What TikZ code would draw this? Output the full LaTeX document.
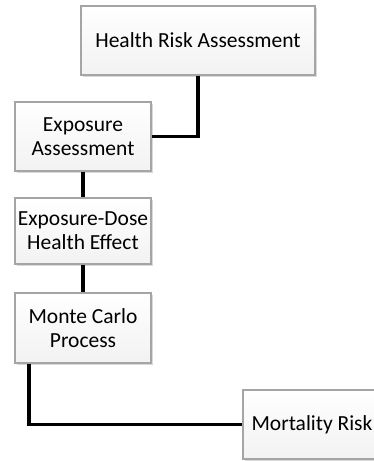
\documentclass[tikz,border=0pt]{standalone}
\usepackage{fontspec}
\setmainfont{Carlito}
\usepackage{tikz}
\usetikzlibrary{positioning,shadows,calc}
\usepackage{xcolor}
\definecolor{boxline}{RGB}{165,165,165}
\definecolor{boxtop}{RGB}{255,255,255}
\definecolor{boxbottom}{RGB}{242,242,242}
\tikzset{
  stagebox/.style={rectangle,draw=boxline,line width=1.3pt,top color=boxtop,
                   bottom color=boxbottom,inner sep=2pt,align=center,
                   font=\fontsize{21.5}{24}\selectfont,
                   drop shadow={opacity=.3,shadow xshift=1.8pt,shadow yshift=-1.8pt}},
  link/.style={draw=black,line width=3.8pt},
}

\begin{document}
\begin{tikzpicture}[x=1pt,y=-1pt]
  \useasboundingbox (0,0) rectangle (374,461);
  \node[stagebox,minimum width=234pt,minimum height=69pt] (hra) at (198,40.5)
    {Health Risk Assessment};
  \node[stagebox,minimum width=136pt,minimum height=69pt] (expo) at (83,136.5)
    {Exposure\\Assessment};
  \node[stagebox,minimum width=136pt,minimum height=66pt] (dose) at (83,231)
    {Exposure-Dose\\Health Effect};
  \node[stagebox,minimum width=136pt,minimum height=70pt] (mc) at (83,328)
    {Monte Carlo\\Process};
  \node[stagebox,minimum width=138pt,minimum height=69pt] (mort) at (312,424.5)
    {Mortality Risk};
  % connectors
  \draw[link] (hra.south) |- (expo.east);
  \draw[link] (expo.south) -- (dose.north);
  \draw[link] (dose.south) -- (mc.north);
  \coordinate (mcfoot) at ($(mc.south west)+(15,0)$);
  \draw[link] (mcfoot) |- (mort.west);
\end{tikzpicture}
\end{document}
